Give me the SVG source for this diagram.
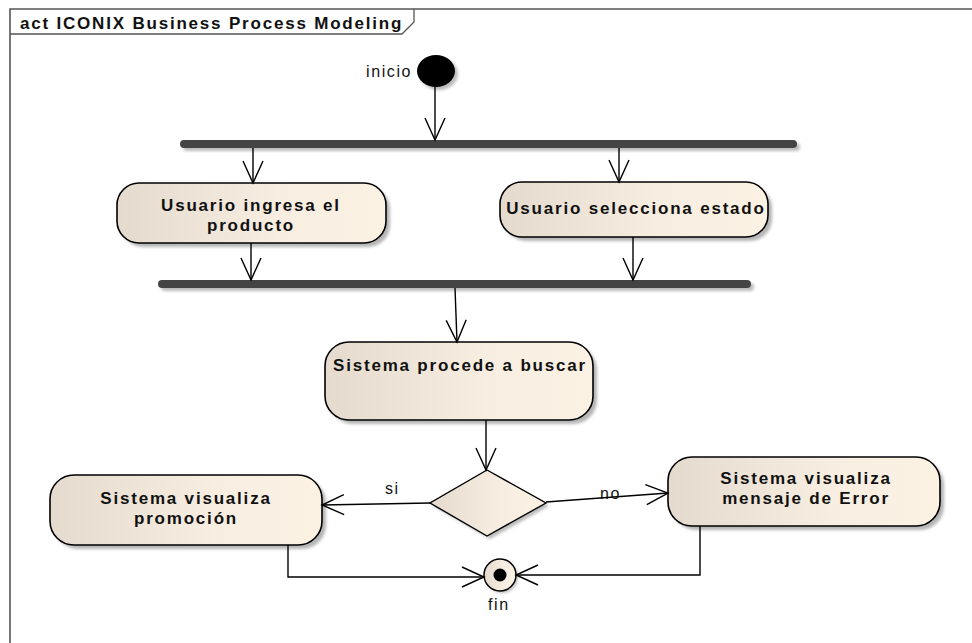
<svg xmlns="http://www.w3.org/2000/svg" width="972" height="643" viewBox="0 0 972 643">
<defs>
<linearGradient id="beige" x1="0" y1="0" x2="1" y2="0">
<stop offset="0" stop-color="#e4dacd"/>
<stop offset="0.6" stop-color="#f7ede0"/>
<stop offset="1" stop-color="#fcf2e4"/>
</linearGradient>
<filter id="blur" x="-10%" y="-10%" width="130%" height="130%"><feGaussianBlur stdDeviation="1.5"/></filter>
<marker id="arr" markerUnits="userSpaceOnUse" viewBox="-24 -12 26 24" markerWidth="26" markerHeight="24" refX="0" refY="0" orient="auto">
<path d="M-22,-10 L0,0 L-22,10" fill="none" stroke="#000" stroke-width="1.4"/>
</marker>
<style>
.act{fill:url(#beige);stroke:#000;stroke-width:1.6}
.sh{fill:#b5b5b5;filter:url(#blur)}
.bar{fill:#444}
.lbl{font-family:"Liberation Sans",Arial,sans-serif;font-weight:bold;font-size:17px;letter-spacing:1.8px;fill:#111;text-anchor:middle}
.txt{font-family:"Liberation Sans",Arial,sans-serif;font-size:16px;letter-spacing:1.6px;fill:#111}
.con{fill:none;stroke:#000;stroke-width:1.4}
</style>
</defs>
<rect width="972" height="643" fill="#fff"/>
<g id="frame">
<path d="M10,643 V9 H972" fill="none" stroke="#555" stroke-width="1.6"/>
<path d="M10,34 H402 L414,22 V9" fill="none" stroke="#555" stroke-width="1.3"/>
<text x="20" y="29" class="lbl" style="text-anchor:start">act ICONIX Business Process Modeling</text>
</g>
<g id="inicio">
<ellipse cx="439" cy="74" rx="19" ry="16" fill="#bbb" filter="url(#blur)"/>
<ellipse cx="436" cy="71" rx="19" ry="16" fill="#000"/>
<text x="366" y="77" class="txt">inicio</text>
</g>
<g id="fork1">
<rect x="183" y="143" width="617" height="8" rx="4" fill="#bbb" filter="url(#blur)"/>
<rect x="180" y="140" width="617" height="8" rx="4" class="bar"/>
</g>
<g id="fork2">
<rect x="161" y="283" width="593" height="8" rx="4" fill="#bbb" filter="url(#blur)"/>
<rect x="158" y="280" width="593" height="8" rx="4" class="bar"/>
</g>
<g id="n1">
<rect x="121" y="187" width="269" height="60" rx="22" class="sh"/>
<rect x="117" y="183" width="269" height="60" rx="22" class="act"/>
<text x="251" y="211" class="lbl">Usuario ingresa el</text>
<text x="251" y="231" class="lbl">producto</text>
</g>
<g id="n2">
<rect x="504" y="186" width="268" height="55" rx="22" class="sh"/>
<rect x="500" y="182" width="268" height="55" rx="22" class="act"/>
<text x="636" y="214" class="lbl">Usuario selecciona estado</text>
</g>
<g id="n3">
<rect x="329" y="346" width="268" height="78" rx="24" class="sh"/>
<rect x="325" y="342" width="268" height="78" rx="24" class="act"/>
<text x="460" y="371" class="lbl">Sistema procede a buscar</text>
</g>
<g id="decision">
<polygon points="490,473 549,506 490,539 433,506" fill="#bbb" filter="url(#blur)"/>
<polygon points="487,470 546,503 487,536 430,503" fill="url(#beige)" stroke="#000" stroke-width="1.4"/>
</g>
<g id="n4">
<rect x="54" y="479" width="272" height="70" rx="24" class="sh"/>
<rect x="50" y="475" width="272" height="70" rx="24" class="act"/>
<text x="186" y="504" class="lbl">Sistema visualiza</text>
<text x="186" y="524" class="lbl">promoción</text>
</g>
<g id="n5">
<rect x="672" y="461" width="272" height="69" rx="24" class="sh"/>
<rect x="668" y="457" width="272" height="69" rx="24" class="act"/>
<text x="806" y="484" class="lbl">Sistema visualiza</text>
<text x="806" y="504" class="lbl">mensaje de Error</text>
</g>
<g id="fin">
<circle cx="502" cy="577" r="16" fill="#bbb" filter="url(#blur)"/>
<circle cx="500" cy="575" r="16" fill="url(#beige)" stroke="#000" stroke-width="1.5"/>
<circle cx="500" cy="575" r="6.5" fill="#000"/>
<text x="488" y="610" class="txt">fin</text>
</g>
<g id="connectors">
<path class="con" d="M435,87 L435,140" marker-end="url(#arr)"/>
<path class="con" d="M253,148 L253,183" marker-end="url(#arr)"/>
<path class="con" d="M619,148 L619,182" marker-end="url(#arr)"/>
<path class="con" d="M251,243 L251,280" marker-end="url(#arr)"/>
<path class="con" d="M633,237 L633,280" marker-end="url(#arr)"/>
<path class="con" d="M455,288 L457,342" marker-end="url(#arr)"/>
<path class="con" d="M486,420 L486,470" marker-end="url(#arr)"/>
<path class="con" d="M430,503 L322,505" marker-end="url(#arr)"/>
<path class="con" d="M546,502 L668,493" marker-end="url(#arr)"/>
<path class="con" d="M288,545 L288,577 L484,577" marker-end="url(#arr)"/>
<path class="con" d="M700,526 L700,575 L516,575" marker-end="url(#arr)"/>
<text x="385" y="494" class="txt">si</text>
<text x="600" y="499" class="txt">no</text>
</g>
</svg>
